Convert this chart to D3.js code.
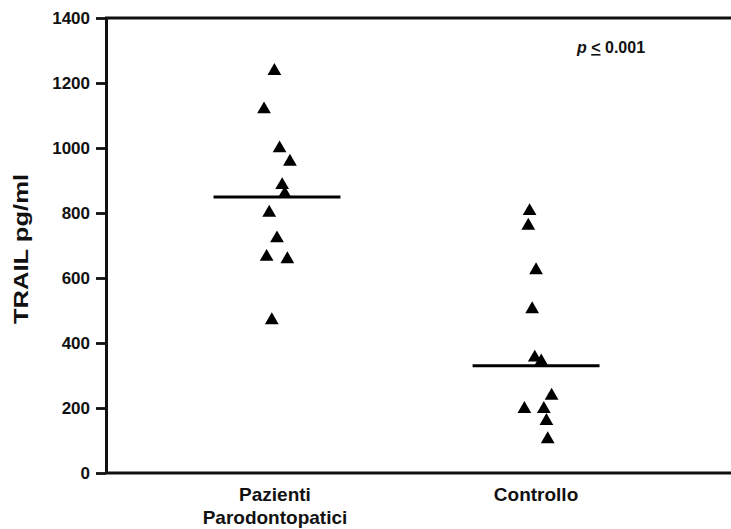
<!DOCTYPE html>
<html><head><meta charset="utf-8">
<script src="https://cdn.jsdelivr.net/npm/d3@7"></script>
<style>body{margin:0;background:#fff}svg{display:block}text{font-family:"Liberation Sans",Arial,sans-serif;font-weight:bold;fill:#111}</style>
</head><body><svg id="c" width="731" height="529"></svg>
<script>
const categories = ["Pazienti\nParodontopatici", "Controllo"];
const pazientiValues = [1240, 1122, 1002, 961, 889, 862, 804, 725, 668, 661, 473];
const pazientiJitter = [-0.01, -0.05, 0.01, 0.05, 0.02, 0.03, -0.03, 0.0, -0.04, 0.04, -0.02];
const controlloValues = [809, 764, 627, 507, 358, 346, 241, 200, 200, 163, 107];
const controlloJitter = [-0.025, -0.03, 0.0, -0.015, -0.005, 0.02, 0.06, -0.045, 0.03, 0.04, 0.045];
const means = [849, 330];
const yTicks = [0, 200, 400, 600, 800, 1000, 1200, 1400];
const pText = "0.001";

const svg = d3.select("#c");
const y = d3.scaleLinear().domain([0, 1400]).range([473, 18]);
const x = d3.scaleLinear().domain([0.34, 2.71]).range([106, 720]);
const centers = [1.0, 2.0];

svg.append("line").attr("x1", 105).attr("x2", 731).attr("y1", y(0)).attr("y2", y(0)).attr("stroke", "#111").attr("stroke-width", 3);
svg.append("line").attr("x1", 105).attr("x2", 731).attr("y1", y(1400)).attr("y2", y(1400)).attr("stroke", "#111").attr("stroke-width", 3);

const yAxis = d3.axisLeft(y).tickValues(yTicks).tickFormat(d3.format("d")).tickSize(10).tickPadding(6).tickSizeOuter(0);
const ga = svg.append("g").attr("transform", "translate(106,0)").call(yAxis);
ga.attr("font-size", 17).attr("font-family", null);
ga.select(".domain").attr("stroke", "#111").attr("stroke-width", 3);
ga.selectAll(".tick line").attr("stroke", "#111").attr("stroke-width", 2.8);
ga.selectAll(".tick text").style("font-size", "17px").attr("fill", "#111");

svg.append("text").attr("transform", "translate(28,249) rotate(-90)").attr("text-anchor", "middle")
  .style("font-size", "20px").attr("textLength", 150).attr("lengthAdjust", "spacingAndGlyphs").text("TRAIL pg/ml");

categories.forEach((c, i) => {
  const lines = c.split("\n");
  const t = svg.append("text").attr("text-anchor", "middle").style("font-size", "19px");
  lines.forEach((l, j) => t.append("tspan").attr("x", x(centers[i]) - (i === 0 ? 2 : 0)).attr("y", 501 + j * 23).text(l));
});

const tri = d3.symbol().type(d3.symbolTriangle).size(82);
const groups = [
  pazientiValues.map((v, i) => ({v, j: centers[0] + pazientiJitter[i]})),
  controlloValues.map((v, i) => ({v, j: centers[1] + controlloJitter[i]}))
];
groups.forEach(g => {
  svg.selectAll(null).data(g).enter().append("path").attr("d", tri)
    .attr("transform", d => `translate(${x(d.j)},${y(d.v) + 1})`).attr("fill", "#000");
});

means.forEach((m, i) => {
  svg.append("line").attr("x1", x(centers[i] - 0.245)).attr("x2", x(centers[i] + 0.245))
    .attr("y1", y(m)).attr("y2", y(m)).attr("stroke", "#000").attr("stroke-width", 3);
});

const pt = svg.append("text").attr("x", 577).attr("y", 53).style("font-size", "16px");
pt.append("tspan").style("font-style", "italic").text("p ");
pt.append("tspan").attr("text-decoration", "underline").text("<");
pt.append("tspan").text(" " + pText);
</script></body></html>
